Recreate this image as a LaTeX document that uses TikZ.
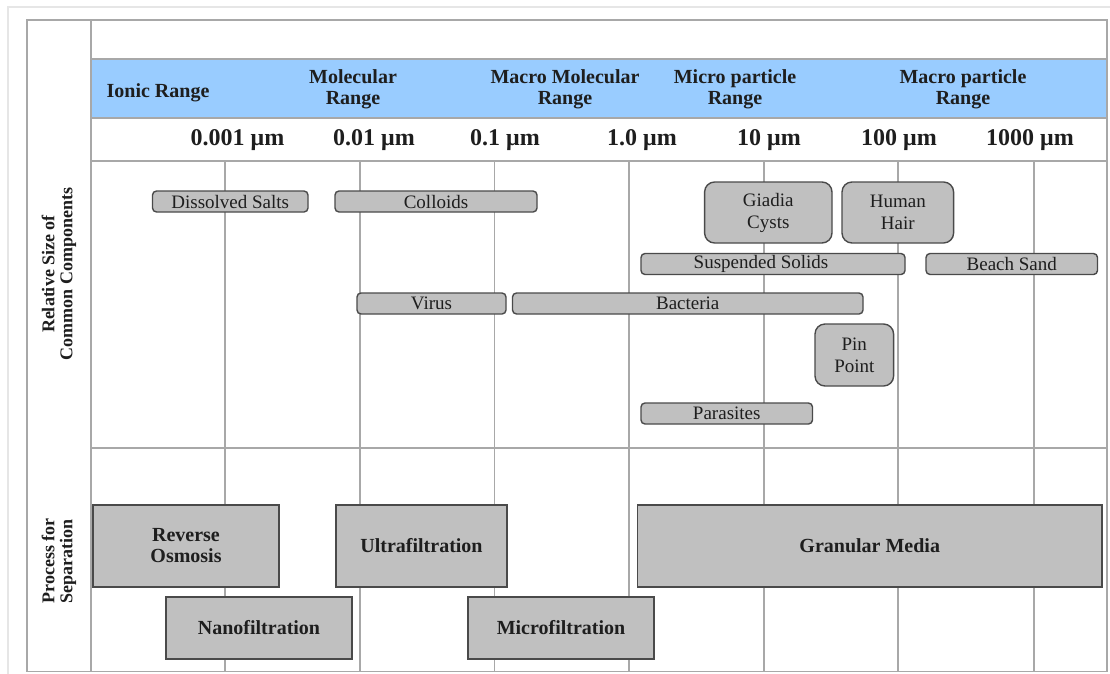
\documentclass[tikz,border=0pt]{standalone}
\usepackage{fontspec}
\setmainfont{Liberation Serif}
\definecolor{gridgray}{HTML}{A8A8A8}
\definecolor{faint}{HTML}{E6E6E6}
\definecolor{boxedge}{HTML}{4A4A4A}
\definecolor{boxfill}{HTML}{C0C0C0}
\definecolor{bandblue}{HTML}{99CCFF}
\definecolor{txt}{HTML}{1E1E1E}
\begin{document}
\begin{tikzpicture}[x=1pt,y=-1pt,
  gridline/.style={draw=gridgray,line width=1.5pt},
  comp/.style={draw=boxedge,fill=boxfill,line width=1.4pt,rounded corners=4pt,inner sep=0pt,
    font=\fontsize{19}{22}\selectfont,text=txt,align=center,minimum height=21pt},
  compbig/.style={comp,rounded corners=10pt},
  proc/.style={draw=boxedge,fill=boxfill,line width=1.4pt,inner sep=0pt,
    font=\bfseries\fontsize{20}{21}\selectfont,text=txt,align=center},
  hdr/.style={font=\bfseries\fontsize{20}{21}\selectfont,text=txt,align=center,inner sep=0pt},
  num/.style={font=\bfseries\fontsize{24}{24}\selectfont,text=txt,inner sep=0pt},
  side/.style={font=\bfseries\fontsize{18}{18}\selectfont,text=txt,align=center,rotate=90,inner sep=0pt}]
\useasboundingbox (0,0) rectangle (1110,673);
\fill[white] (0,0) rectangle (1110,673);
\begin{scope}
\clip (0,0) rectangle (1110,673);
% outer faint frame
\draw[faint,line width=1.5pt] (8,7) rectangle (1115,690);
% header band
\fill[bandblue] (91,59) rectangle (1107,118);
\draw[gridline] (91,59) -- (1107,59);
\draw[gridline] (91,118) -- (1107,118);
% frame
\draw[gridline] (27,20) rectangle (1107,671.5);
\draw[gridline] (91,20) -- (91,671.5);
\draw[gridline] (91,161) -- (1107,161);
\draw[gridline] (91,448) -- (1107,448);
\foreach \gx in {225,360,494.5,629,764,898,1034}
  \draw[gridline] (\gx,161) -- (\gx,671.5);
\end{scope}
% header labels
\node[hdr] (ionic) at (158,93) {Ionic Range};
\node[hdr] (molec) at (353,89.5) {Molecular\\Range};
\node[hdr] (macromol) at (565,89) {Macro Molecular\\Range};
\node[hdr] (micropart) at (735,89) {Micro particle\\Range};
\node[hdr] (macropart) at (963,89) {Macro particle\\Range};
% scale numbers
\node[num] (n1) at (237.5,140) {0.001 μm};
\node[num] (n2) at (374,140) {0.01 μm};
\node[num] (n3) at (505,140) {0.1 μm};
\node[num] (n4) at (642,140) {1.0 μm};
\node[num] (n5) at (769,140) {10 μm};
\node[num] (n6) at (899,140) {100 μm};
\node[num] (n7) at (1030,140) {1000 μm};
% side labels
\node[side] (sideA) at (59,274) {Relative Size of\\Common Components};
\node[side] (sideB) at (59,561) {Process for\\Separation};
% components
\node[comp,minimum width=155.5pt] (salts) at (230.25,201.5) {Dissolved Salts};
\node[comp,minimum width=202pt] (colloids) at (436,201.5) {Colloids};
\node[compbig,minimum width=127.4pt,minimum height=61pt] (giadia) at (768.3,212.5) {Giadia\\Cysts};
\node[compbig,minimum width=111.6pt,minimum height=61pt] (hair) at (897.8,212.5) {Human\\Hair};
\node[comp,minimum width=264pt] (susp) at (773,264) {Suspended Solids\hspace*{24pt}};
\node[comp,minimum width=171.5pt] (sand) at (1011.75,264) {Beach Sand};
\node[comp,minimum width=149pt] (virus) at (431.5,303.5) {Virus};
\node[comp,minimum width=350.5pt] (bact) at (687.75,303.5) {Bacteria};
\node[compbig,minimum width=78.6pt,minimum height=62pt] (pin) at (854.3,355) {Pin\\Point};
\node[comp,minimum width=171.5pt] (paras) at (726.75,413.5) {Parasites};
% processes
\node[proc,minimum width=186pt,minimum height=82pt] (ro) at (186,546) {Reverse\\Osmosis};
\node[proc,minimum width=171pt,minimum height=82pt] (uf) at (421.5,546) {Ultrafiltration};
\node[proc,minimum width=464.5pt,minimum height=82pt] (gm) at (869.75,546) {Granular Media};
\node[proc,minimum width=186pt,minimum height=62pt] (nf) at (259,628) {Nanofiltration};
\node[proc,minimum width=186pt,minimum height=62pt] (mf) at (561,628) {Microfiltration};
\end{tikzpicture}
\end{document}
